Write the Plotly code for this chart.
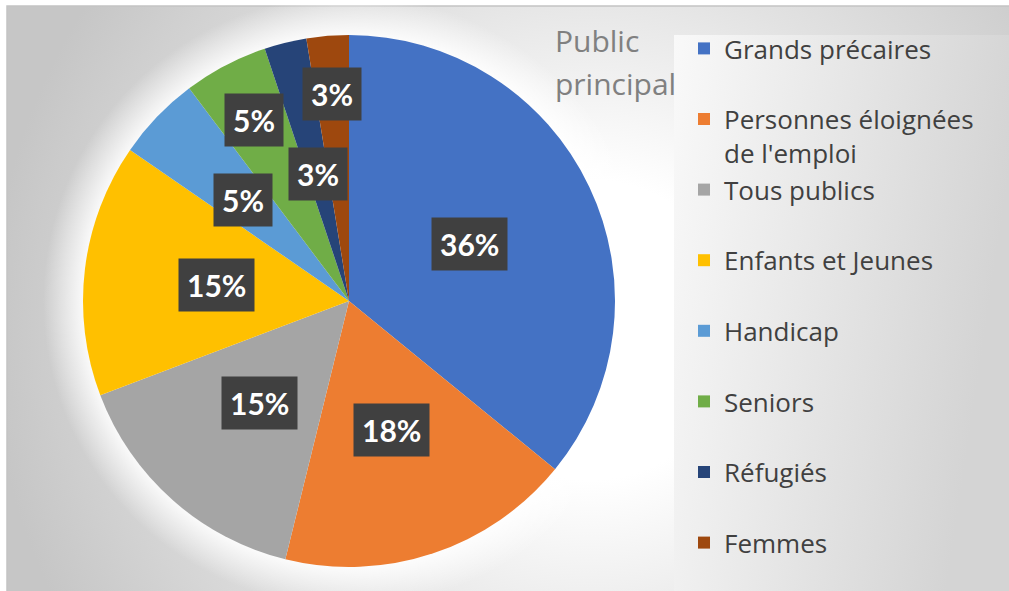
import base64
import math
import plotly.graph_objects as go

# ---- data ----
categories = ["Grands précaires", "Personnes éloignées de l'emploi", "Tous publics",
              "Enfants et Jeunes", "Handicap", "Seniors", "Réfugiés", "Femmes"]
values = [14, 7, 6, 6, 2, 2, 1, 1]
legend_title = ["Public", "principal"]

# ---- style ----
colors = ["#4472C4", "#ED7D31", "#A5A5A5", "#FFC000", "#5B9BD5", "#70AD47", "#264478", "#9E480E"]
label_radius = [0.50, 0.51, 0.51, 0.50, 0.55, 0.77, 0.49, 0.78]  # Excel best-fit label placement
W, H = 1009, 591
CX, CY, R = 349, 301, 266

legend_labels = []
for i, c in enumerate(categories):
    if c == "Personnes éloignées de l'emploi":
        legend_labels.append("Personnes éloignées<br>de l'emploi")
    elif i == len(categories) - 1:
        legend_labels.append(c)
    else:
        legend_labels.append(c + "<br>\u00a0")

svg = f'''<svg xmlns="http://www.w3.org/2000/svg" width="{W}" height="{H}" viewBox="0 0 {W} {H}" preserveAspectRatio="none">
<defs>
<radialGradient id="bg" gradientUnits="userSpaceOnUse" cx="590" cy="330" r="600">
<stop offset="0" stop-color="#ffffff"/>
<stop offset="0.25" stop-color="#ffffff"/>
<stop offset="0.6" stop-color="#e2e2e2"/>
<stop offset="1" stop-color="#c6c6c6"/>
</radialGradient>
<linearGradient id="lg" x1="0" y1="0" x2="1" y2="0.25">
<stop offset="0" stop-color="#f9f9f9"/>
<stop offset="1" stop-color="#d4d4d4"/>
</linearGradient>
<radialGradient id="glow" gradientUnits="userSpaceOnUse" cx="{CX}" cy="{CY}" r="{R+40}">
<stop offset="0.85" stop-color="#ffffff" stop-opacity="1"/>
<stop offset="1" stop-color="#ffffff" stop-opacity="0"/>
</radialGradient>
</defs>
<rect x="0" y="0" width="{W}" height="{H}" fill="#ffffff"/>
<rect x="7" y="6" width="{W-7}" height="{H-6}" fill="url(#bg)"/>
<path d="M7,{H} V6 H{W}" fill="none" stroke="#c4c4c4" stroke-width="1.5"/>
<circle cx="{CX}" cy="{CY}" r="{R+40}" fill="url(#glow)"/>
<rect x="674" y="35" width="{W-674}" height="{H-35}" fill="url(#lg)"/>
</svg>'''
svg_uri = "data:image/svg+xml;base64," + base64.b64encode(svg.encode("utf-8")).decode("ascii")

fig = go.Figure()
fig.add_trace(go.Pie(
    labels=legend_labels,
    values=values,
    sort=False,
    direction="clockwise",
    rotation=0,
    marker=dict(colors=colors, line=dict(width=0)),
    textinfo="none",
    hoverinfo="label+percent",
    domain=dict(x=[(CX - R) / W, (CX + R) / W], y=[1 - (CY + R) / H, 1 - (CY - R) / H]),
))

# data labels (percentages derived from values, placed along slice mid-angles)
total = sum(values)
cum = 0
annotations = []
for v, f in zip(values, label_radius):
    mid = (cum + v / 2) / total * 2 * math.pi
    cum += v
    px = CX + f * R * math.sin(mid)
    py = CY - f * R * math.cos(mid)
    txt = f"<b>{round(100 * v / total)}%</b>"
    annotations.append(dict(x=px / W, y=1 - py / H, xref="paper", yref="paper",
                            xanchor="center", yanchor="middle",
                            text=txt, showarrow=False, bgcolor="#404040", borderpad=8,
                            font=dict(family="Lato", size=30, color="#ffffff")))

# legend title (two lines, as in the reference)
for i, word in enumerate(legend_title):
    annotations.append(dict(x=553 / W, y=1 - (40 + 44 * i) / H, xref="paper", yref="paper",
                            xanchor="left", yanchor="middle", showarrow=False, text=word,
                            font=dict(family="Open Sans", size=30, color="#808080")))

fig.update_layout(
    width=W, height=H,
    margin=dict(l=0, r=0, t=0, b=0),
    paper_bgcolor="#d6d6d6",
    images=[dict(source=svg_uri, xref="paper", yref="paper", x=0, y=1, sizex=1, sizey=1,
                 xanchor="left", yanchor="top", sizing="stretch", layer="below")],
    annotations=annotations,
    showlegend=True,
    legend=dict(
        x=684 / W, y=1 - 25 / H, xanchor="left", yanchor="top",
        bgcolor="rgba(0,0,0,0)",
        font=dict(family="Open Sans", size=26, color="#404040"),
        valign="top",
        itemclick=False,
    ),
)

fig.write_html("out.html", config={"displayModeBar": False},
               post_script="document.body.style.margin='0';document.body.style.overflow='hidden';document.body.style.background='#d6d6d6';")
